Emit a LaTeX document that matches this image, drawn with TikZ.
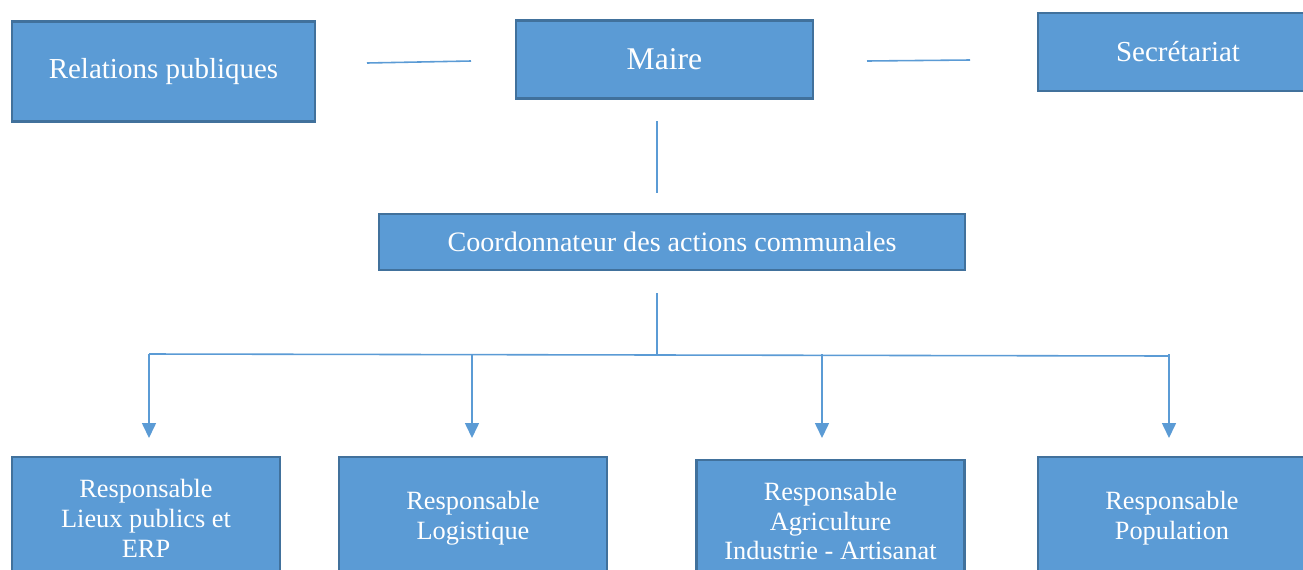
\documentclass[tikz,border=0pt]{standalone}
\usepackage{fontspec}
\setmainfont{Liberation Serif}
\usetikzlibrary{arrows.meta,positioning}

\definecolor{boxblue}{HTML}{5B9BD5}
\definecolor{boxline}{HTML}{41719C}

\tikzset{
  orgbox/.style={draw=boxline, fill=boxblue, line width=1.4pt, text=white,
    inner sep=0pt, align=center},
  link/.style={draw=boxblue, line width=0.9pt},
  arr/.style={link, -{Triangle[length=0.3cm,width=0.28cm]}}
}

\begin{document}
\begin{tikzpicture}[x=0.02cm, y=-0.02cm]
    % Frame
    \clip (0,0) rectangle (1303,569);

    % Top row
    \node[orgbox, minimum width=6.06cm, minimum height=2cm, font=\fontsize{16.5}{20}\selectfont]
      (relpub) at (163.5,71.5) {Relations publiques};
    \node[orgbox, minimum width=5.94cm, minimum height=1.56cm, font=\fontsize{18}{22}\selectfont]
      (maire) at (664.5,59.5) {Maire};
    \node[orgbox, minimum width=5.6cm, minimum height=1.56cm, font=\fontsize{16.5}{20}\selectfont]
      (secr) at (1178,52) {Secrétariat};

    % Coordination
    \node[orgbox, minimum width=11.72cm, minimum height=1.12cm, font=\fontsize{16}{20}\selectfont]
      (coord) at (672,242) {Coordonnateur des actions communales};

    % Responsables
    \node[orgbox, minimum width=5.36cm, minimum height=2.44cm, font=\fontsize{15}{17}\selectfont]
      (lieux) at (146,518) {Responsable\\Lieux publics et\\ERP};
    \node[orgbox, minimum width=5.36cm, minimum height=2.44cm, font=\fontsize{15}{17}\selectfont]
      (logist) at (473,518) {Responsable\\Logistique};
    \node[orgbox, minimum width=5.36cm, minimum height=2.44cm, font=\fontsize{15}{17}\selectfont]
      (agri) at (830.5,521) {Responsable\\Agriculture\\Industrie - Artisanat};
    \node[orgbox, minimum width=5.36cm, minimum height=2.44cm, font=\fontsize{15}{17}\selectfont]
      (popul) at (1172,518) {Responsable\\Population};

    % Lines of the top row
    \coordinate (rpA) at (367,63);
    \coordinate (rpB) at (471,61);
    \coordinate (seA) at (867,61);
    \coordinate (seB) at (970,60);
    \draw[link] (rpA) -- (rpB);
    \draw[link] (seA) -- (seB);

    % Maire to coordination
    \coordinate (mA) at (657,121);
    \coordinate (mB) at (657,193);
    \draw[link] (mA) -- (mB);

    % Coordination to responsables
    \coordinate (cA) at (657,293);
    \coordinate (bus) at (657,354);
    \draw[link] (cA) -- (bus);
    \draw[link] (149,354) -- (1169,356);
    \foreach \x/\n in {149/lieux, 472/logist, 822/agri, 1169/popul}{
      \coordinate (top\n) at (\x,438);
      \draw[arr] (\x,354) -- (top\n);
    }
  \end{tikzpicture}
\end{document}
